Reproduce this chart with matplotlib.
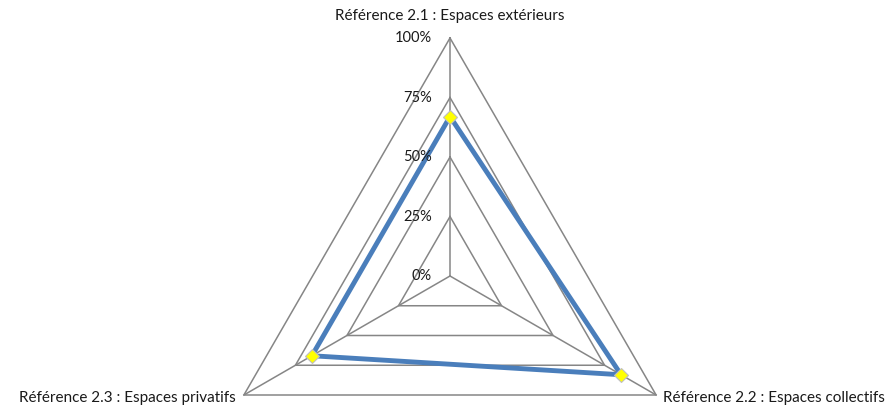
import numpy as np
import matplotlib.pyplot as plt

categories = ["Référence 2.1 : Espaces extérieurs",
              "Référence 2.2 : Espaces collectifs",
              "Référence 2.3 : Espaces privatifs"]
values = [0.67, 0.83, 0.67]
ticks = [0, 0.25, 0.5, 0.75, 1.0]
tick_labels = ["0%", "25%", "50%", "75%", "100%"]

plt.rcParams['font.family'] = ['Lato', 'DejaVu Sans']

W, H = 891, 411
fig = plt.figure(figsize=(W / 100, H / 100), dpi=100)
cx, cy, R = 450, 276, 238
ax = fig.add_axes([(cx - R) / W, (H - cy - R) / H, 2 * R / W, 2 * R / H],
                  projection='polar')
ax.set_theta_zero_location('N')
ax.set_theta_direction(-1)
ax.set_ylim(0, 1)
ax.grid(False)
ax.spines['polar'].set_visible(False)
ax.set_xticks([])
ax.set_yticks([])
ax.patch.set_alpha(0)

angles = np.deg2rad([0, 120, 240])
closed = np.append(angles, angles[0])

grid_col = '#868686'
for t in ticks[1:]:
    ax.plot(closed, [t] * 4, color=grid_col, lw=1.1, clip_on=False)
for a in angles:
    ax.plot([a, a], [0, 1], color=grid_col, lw=1.1, clip_on=False)

ax.plot(closed, np.append(values, values[0]), color='#4A7EBB', lw=3.5,
        solid_joinstyle='miter', clip_on=False, zorder=3)
ax.plot(angles, values, ls='none', marker='D', ms=7, mfc='#FFFF00',
        mec='#BFBFBF', mew=0.8, clip_on=False, zorder=4)

for t, lab in zip(ticks, tick_labels):
    ax.annotate(lab, xy=(0, t), xytext=(-13, 0), textcoords='offset points',
                ha='right', va='center', fontsize=10.5, color='#1a1a1a')

ax.annotate(categories[0], xy=(angles[0], 1), xytext=(0, 16),
            textcoords='offset points', ha='center', va='center',
            fontsize=11, color='#1a1a1a')
ax.annotate(categories[1], xy=(angles[1], 1), xytext=(5, -2),
            textcoords='offset points', ha='left', va='center',
            fontsize=11, color='#1a1a1a')
ax.annotate(categories[2], xy=(angles[2], 1), xytext=(-6, -2),
            textcoords='offset points', ha='right', va='center',
            fontsize=11, color='#1a1a1a')

fig.savefig('out.png', dpi=100)
